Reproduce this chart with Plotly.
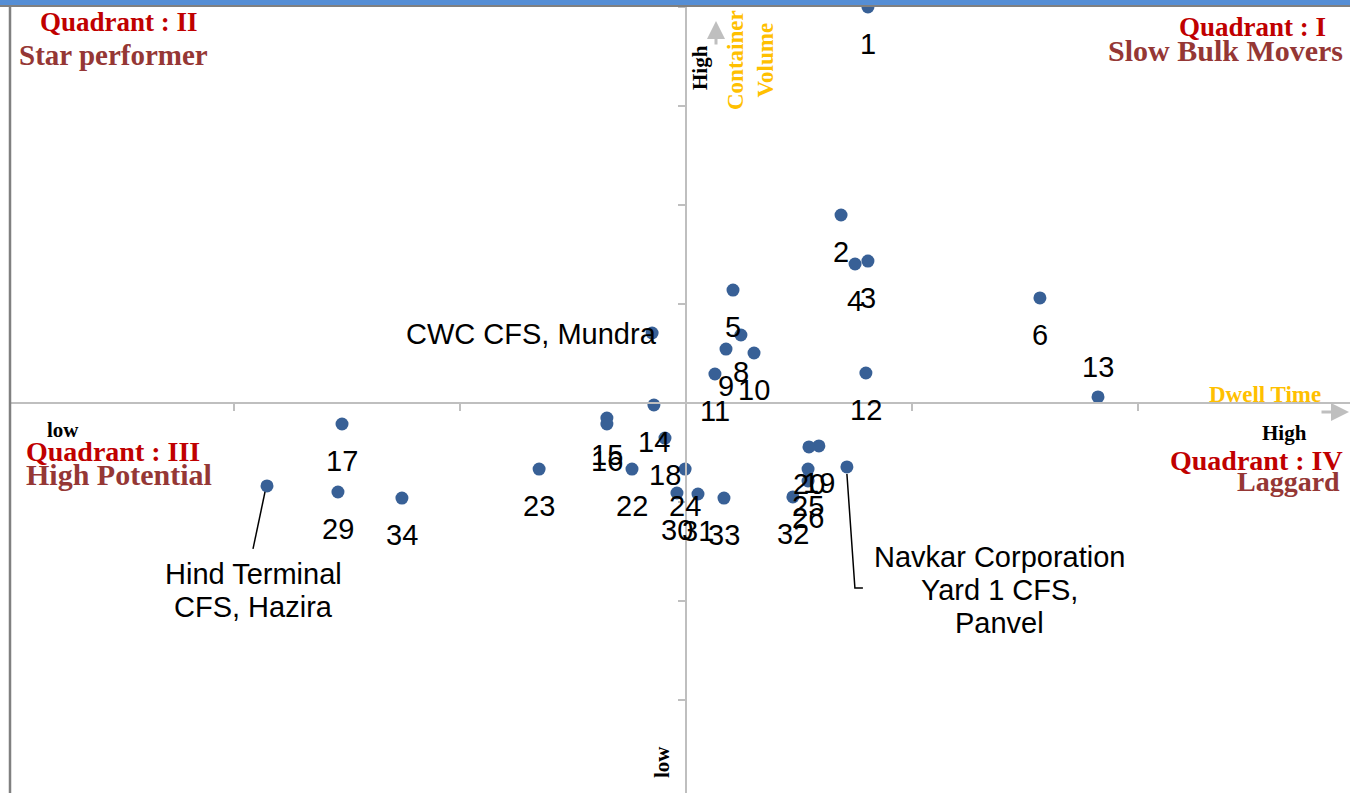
import plotly.graph_objects as go

# ---------------- data ----------------
labels = ["1", "2", "3", "4", "5", "6", "CWC CFS, Mundra", "8", "9", "10",
          "11", "12", "13", "14", "15", "16", "17", "18", "19", "20",
          "Navkar Corporation<br>Yard 1 CFS,<br>Panvel", "22", "23", "24", "25", "26",
          "Hind Terminal<br>CFS, Hazira", "29", "30", "31", "32", "33", "34"]
dwell = [0.805, 0.686, 0.805, 0.748, 0.208, 1.566, -0.150, 0.243, 0.177, 0.301,
         0.128, 0.796, 1.823, -0.142, -0.350, -0.350, -1.522, -0.093, 0.588, 0.544,
         0.712, -0.239, -0.650, -0.004, 0.540, 0.540,
         -1.854, -1.540, -0.040, 0.053, 0.473, 0.168, -1.257]
volume = [4.00, 1.899, 1.434, 1.404, 1.141, 1.061, 0.707, 0.687, 0.545, 0.505,
          0.293, 0.303, 0.061, -0.020, -0.152, -0.212, -0.212, -0.354, -0.434, -0.444,
          -0.646, -0.667, -0.667, -0.667, -0.667, -0.788,
          -0.838, -0.899, -0.909, -0.919, -0.949, -0.960, -0.960]
label_pos = ["below"] * len(labels)
label_pos[labels.index("13")] = "above"
label_pos[labels.index("CWC CFS, Mundra")] = "left"
label_pos[labels.index("Navkar Corporation<br>Yard 1 CFS,<br>Panvel")] = "navkar"
label_pos[labels.index("Hind Terminal<br>CFS, Hazira")] = "hind"

# ---------------- geometry ----------------
W, H = 1350, 793
ML, MT = 11, 7
PX_PER_X, PX_PER_Y = 226.0, 99.0
X0_PX, Y0_PX = 686, 403
xmin = (ML - X0_PX) / PX_PER_X
xmax = (W - X0_PX) / PX_PER_X
ymax = (Y0_PX - MT) / PX_PER_Y
ymin = (Y0_PX - H) / PX_PER_Y
PW, PH = W - ML, H - MT


def px(xp):
    return (xp - ML) / PW


def py(yp):
    return (H - yp) / PH


AX_GRAY = "#BFBFBF"
RED = "#C00000"
BROWN = "#953735"
ORANGE = "#FFC000"
SERIF = "Liberation Serif, Times New Roman, serif"
SANS = "Liberation Sans, Arial, sans-serif"
LBL_SIZE = 29
LINE_GAP = 33

fig = go.Figure()
fig.add_trace(go.Scatter(
    x=dwell, y=volume, mode="markers",
    marker=dict(size=13, color="#386096"),
    hoverinfo="text", hovertext=[l.replace("<br>", " ") for l in labels],
    cliponaxis=True, showlegend=False))

annotations = []
shapes = []


def multiline(base, lab, xshift, ycenter_shift):
    lines = lab.split("<br>")
    n = len(lines)
    for i, line in enumerate(lines):
        off = (i - (n - 1) / 2) * LINE_GAP
        annotations.append({**base, "text": line, "xshift": xshift,
                            "yshift": ycenter_shift - off})


for lab, xv, yv, pos in zip(labels, dwell, volume, label_pos):
    base = dict(x=xv, y=yv, xref="x", yref="y", text=lab, showarrow=False,
                font=dict(family=SANS, size=LBL_SIZE, color="black"))
    if pos == "below":
        annotations.append({**base, "yshift": -37})
    elif pos == "above":
        annotations.append({**base, "yshift": 30})
    elif pos == "left":
        annotations.append({**base, "xanchor": "right", "xshift": 7, "yshift": -1})
    elif pos == "hind":
        multiline(base, lab, -14, -105)
        shapes.append(dict(type="line", xref="x", yref="y",
                           x0=xv - 2 / PX_PER_X, y0=yv - 6 / PX_PER_Y,
                           x1=xv - 14 / PX_PER_X, y1=yv - 63 / PX_PER_Y,
                           line=dict(color="black", width=1.5)))
    elif pos == "navkar":
        multiline(base, lab, 153, -123)
        shapes.append(dict(type="path", xref="x", yref="y",
                           path=(f"M {xv} {yv - 7 / PX_PER_Y} "
                                 f"L {xv + 8 / PX_PER_X} {yv - 121 / PX_PER_Y} "
                                 f"L {xv + 16 / PX_PER_X} {yv - 121 / PX_PER_Y}"),
                           line=dict(color="black", width=1.5)))


def ptext(x, y, text, size, color, xanchor="center", angle=0, bold=True, family=SERIF):
    annotations.append(dict(x=px(x), y=py(y), xref="paper", yref="paper",
                            text=f"<b>{text}</b>" if bold else text, showarrow=False,
                            xanchor=xanchor, yanchor="middle", textangle=angle,
                            font=dict(family=family, size=size, color=color)))


# quadrant texts
ptext(119, 22, "Quadrant : II", 27, RED)
ptext(113, 55, "Star performer", 29, BROWN)
ptext(1328, 27, "Quadrant : I", 27, RED, xanchor="right")
ptext(1345, 51, "Slow Bulk Movers", 30, BROWN, xanchor="right")
ptext(24, 451, "Quadrant : III", 28, RED, xanchor="left")
ptext(24, 474, "High Potential", 30, BROWN, xanchor="left")
ptext(1345, 460, "Quadrant : IV", 28, RED, xanchor="right")
ptext(1342, 481, "Laggard", 28, BROWN, xanchor="right")

# axis words
ptext(63, 430, "low", 21, "black")
ptext(1284, 433, "High", 21, "black")
ptext(1265, 394, "Dwell Time", 23, ORANGE)
ptext(750, 60, "Container<br>Volume", 23, ORANGE, angle=-90)
ptext(700, 68, "High", 21, "black", angle=-90)
ptext(662, 762, "low", 21, "black", angle=-90)

# arrows
annotations.append(dict(x=px(1350), y=py(412), xref="paper", yref="paper",
                        ax=-30, ay=0, text="", showarrow=True, arrowhead=2,
                        arrowsize=1.2, arrowwidth=3, arrowcolor=AX_GRAY))
annotations.append(dict(x=px(716), y=py(21), xref="paper", yref="paper",
                        ax=0, ay=25, text="", showarrow=True, arrowhead=2,
                        arrowsize=1.2, arrowwidth=3, arrowcolor=AX_GRAY))

# frame: blue top bar, gray top/left border
shapes.append(dict(type="rect", xref="paper", yref="paper", x0=px(0), x1=px(W),
                   y0=py(5), y1=py(0), fillcolor="#558ED5", line=dict(width=0), layer="above"))
shapes.append(dict(type="line", xref="paper", yref="paper", x0=px(0), x1=px(W),
                   y0=py(6), y1=py(6), line=dict(color="#808080", width=2), layer="above"))
shapes.append(dict(type="line", xref="paper", yref="paper", x0=px(10), x1=px(10),
                   y0=py(6), y1=py(H), line=dict(color="#808080", width=2.5), layer="above"))

fig.update_layout(
    width=W, height=H,
    margin=dict(l=ML, r=0, t=MT, b=0, pad=0),
    paper_bgcolor="white", plot_bgcolor="white",
    showlegend=False,
    xaxis=dict(range=[xmin, xmax], anchor="free", position=(0 - ymin) / (ymax - ymin),
               showgrid=False, zeroline=False, showticklabels=False,
               showline=True, linecolor=AX_GRAY, linewidth=2,
               ticks="outside", ticklen=7, tickwidth=2, tickcolor=AX_GRAY,
               tick0=0, dtick=1, fixedrange=True),
    yaxis=dict(range=[ymin, ymax], anchor="free", position=(0 - xmin) / (xmax - xmin),
               showgrid=False, zeroline=False, showticklabels=False,
               showline=True, linecolor=AX_GRAY, linewidth=2,
               ticks="outside", ticklen=7, tickwidth=2, tickcolor=AX_GRAY,
               tick0=0, dtick=1, fixedrange=True),
    annotations=annotations,
    shapes=shapes,
)

fig.write_html("out.html", config={"displayModeBar": False},
               post_script="document.body.style.margin='0';document.body.style.overflow='hidden';")
